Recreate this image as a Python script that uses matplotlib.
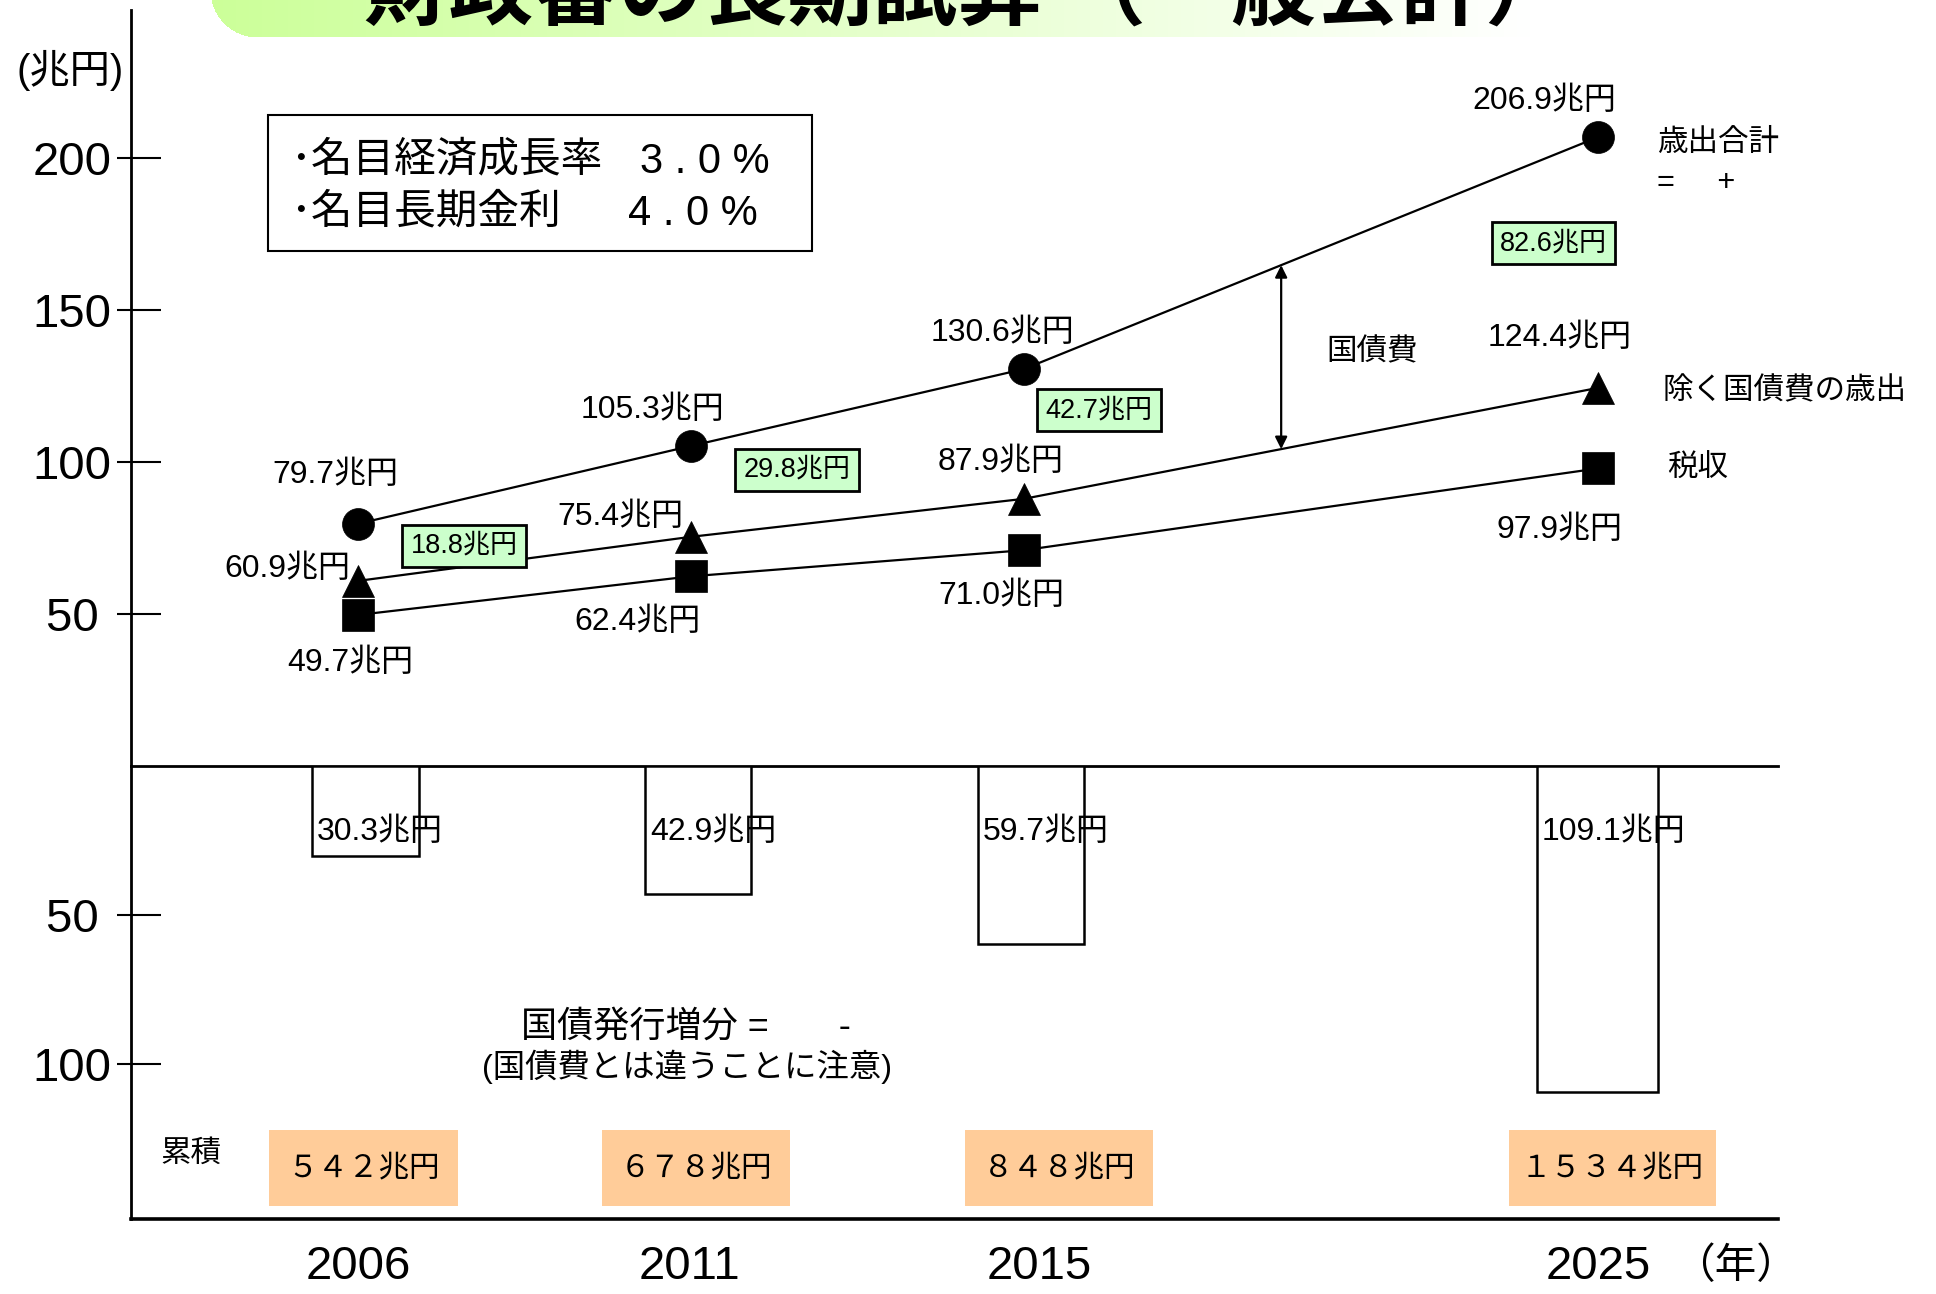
import numpy as np
import matplotlib
matplotlib.use("Agg")
import matplotlib.pyplot as plt
from matplotlib.patches import Rectangle

plt.rcParams['font.family'] = ['Liberation Sans', 'Noto Sans CJK JP']

# ---------------- data ----------------
years = ['2006', '2011', '2015', '2025']
total_exp = [79.7, 105.3, 130.6, 206.9]        # 歳出合計
exp_excl_debt = [60.9, 75.4, 87.9, 124.4]      # 除く国債費の歳出
tax_revenue = [49.7, 62.4, 71.0, 97.9]         # 税収
debt_service = [18.8, 29.8, 42.7, 82.6]        # 国債費
bond_increase = [30.3, 42.9, 59.7, 109.1]      # 国債発行増分
cumulative = ['５４２兆円', '６７８兆円', '８４８兆円', '１５３４兆円']  # 累積
upper_ticks = [50, 100, 150, 200]
upper_ticklabels = ['50 ', '100', '150', '200']
lower_ticks = [50, 100]
lower_ticklabels = ['50 ', '100']

# ---------------- layout ----------------
W, H = 1936, 1294
def fx(px): return px / W
def fy(py): return 1 - py / H

x_pos = [0, 1, 2, 3.724]
year_label_pos = [0, 0.995, 2.045, 3.724]
bar_x = [0.022, 1.021, 2.021, 3.722]
bar_w = [0.321, 0.318, 0.318, 0.363]
XLIM = (-0.682, 4.264)

fig = plt.figure(figsize=(W / 100, H / 100), dpi=100)

# title band with gradient (top clipped by figure edge)
band_w, band_h = 1390, 115
tb = fig.add_axes([fx(210), fy(37), band_w / W, band_h / H], zorder=-1)
img = np.ones((band_h, band_w, 4))
t = np.linspace(0, 1, band_w)
start = np.array([0.80, 1.0, 0.60])
for c in range(3):
    img[:, :, c] = start[c] + (1 - start[c]) * np.clip(t / 0.95, 0, 1)
r = 47
cc, rr = 47, band_h - 37 - 10
yy, xx = np.mgrid[0:band_h, 0:band_w]
mask = (xx < cc) & (yy > rr) & ((xx - cc) ** 2 + (yy - rr) ** 2 > r ** 2)
img[mask, 3] = 0
tb.imshow(img, extent=[0, band_w, 0, band_h], aspect='auto', origin='upper')
tb.set_xlim(0, band_w); tb.set_ylim(0, band_h)
tb.axis('off')
fig.text(fx(364), fy(19), '財政審の長期試算 （一般会計）', fontsize=61,
         fontweight='bold', family=['Noto Sans CJK JP'], ha='left', va='baseline')

# ---------------- upper axes (lines) ----------------
ax = fig.add_axes([fx(131), fy(766), fx(1778) - fx(131), (766 - 10) / H])
ax.patch.set_visible(False)
ax.set_xlim(*XLIM)
ax.set_ylim(0, 248.7)
for s in ['top', 'right']:
    ax.spines[s].set_visible(False)
ax.spines['left'].set_linewidth(2)
ax.spines['bottom'].set_linewidth(2)
ax.set_xticks([])
ax.set_yticks(upper_ticks)
ax.set_yticklabels(upper_ticklabels)
ax.set_yticks(upper_ticks, minor=True)
ax.yaxis.remove_overlapping_locs = False
ax.tick_params(axis='y', which='major', direction='out', length=10, width=1.5,
               pad=4, labelsize=34)
ax.tick_params(axis='y', which='minor', direction='in', length=21.6, width=1.5)

ms = 23
ax.plot(x_pos, total_exp, color='black', lw=1.6, marker='o', ms=ms, mew=0.5, zorder=3)
ax.plot(x_pos, exp_excl_debt, color='black', lw=1.6, marker='^', ms=ms, mew=0.5, zorder=3)
ax.plot(x_pos, tax_revenue, color='black', lw=1.6, marker='s', ms=ms, mew=0.5, zorder=3)

LFS = 23
off_total = [(-23, 49), (-39, 36), (-22, 36), (-54, 36)]
for x, v, o in zip(x_pos, total_exp, off_total):
    ax.annotate(f'{v:.1f}兆円', (x, v), xytext=o, textcoords='offset pixels',
                ha='center', va='center', fontsize=LFS, annotation_clip=False)
off_excl = [(-8, 12, 'right'), (-8, 20, 'right'), (-23, 37, 'center'), (-38, 50, 'center')]
for x, v, o in zip(x_pos, exp_excl_debt, off_excl):
    ax.annotate(f'{v:.1f}兆円', (x, v), xytext=o[:2], textcoords='offset pixels',
                ha=o[2], va='center', fontsize=LFS, annotation_clip=False)
off_tax = [(-8, -48), (-54, -46), (-23, -46), (-39, -62)]
for x, v, o in zip(x_pos, tax_revenue, off_tax):
    ax.annotate(f'{v:.1f}兆円', (x, v), xytext=o, textcoords='offset pixels',
                ha='center', va='center', fontsize=LFS, annotation_clip=False)

# green debt-service boxes
green_pos = [(0.318, 72.4), (1.318, 97.4), (2.225, 117.1), (3.589, 172.0)]
for (gx, gy), v in zip(green_pos, debt_service):
    ax.text(gx, gy, f'{v:.1f}兆円', ha='center', va='center', fontsize=19.5, zorder=5,
            bbox=dict(boxstyle='square,pad=0.3', fc='#ccffcc', ec='black', lw=2))

# double arrow for 国債費
ax_x = 2.772
y_top = np.interp(ax_x, x_pos, total_exp)
y_bot = np.interp(ax_x, x_pos, exp_excl_debt)
ax.annotate('', xy=(ax_x, y_top), xytext=(ax_x, y_bot),
            arrowprops=dict(arrowstyle='<|-|>', color='black', lw=1.6,
                            mutation_scale=18, shrinkA=0, shrinkB=0))
ax.text(3.045, 136.2, '国債費', ha='center', va='center', fontsize=22)

# right-side series labels
ax.annotate('歳出合計', (x_pos[-1], total_exp[-1]), xytext=(59, -6),
            textcoords='offset pixels', ha='left', va='center', fontsize=22,
            annotation_clip=False)
ax.annotate('=     +', (x_pos[-1], total_exp[-1]), xytext=(59, -46),
            textcoords='offset pixels', ha='left', va='center', fontsize=22,
            annotation_clip=False)
ax.annotate('除く国債費の歳出', (x_pos[-1], exp_excl_debt[-1]), xytext=(64, -4),
            textcoords='offset pixels', ha='left', va='center', fontsize=22,
            annotation_clip=False)
ax.annotate('税収', (x_pos[-1], tax_revenue[-1]), xytext=(69, -1),
            textcoords='offset pixels', ha='left', va='center', fontsize=22,
            annotation_clip=False)

# ---------------- lower axes (bars) ----------------
axb = fig.add_axes([fx(131), fy(1219), fx(1778) - fx(131), (1219 - 766) / H])
axb.patch.set_visible(False)
axb.set_xlim(*XLIM)
axb.set_ylim(151.8, 0)
for s in ['top', 'right']:
    axb.spines[s].set_visible(False)
axb.spines['left'].set_linewidth(2)
axb.spines['bottom'].set_linewidth(2.6)
axb.set_yticks(lower_ticks)
axb.set_yticklabels(lower_ticklabels)
axb.set_yticks(lower_ticks, minor=True)
axb.yaxis.remove_overlapping_locs = False
axb.tick_params(axis='y', which='major', direction='out', length=10, width=1.5,
                pad=4, labelsize=34)
axb.tick_params(axis='y', which='minor', direction='in', length=21.6, width=1.5)
axb.set_xticks(year_label_pos)
axb.set_xticklabels(years)
axb.tick_params(axis='x', length=0, pad=19, labelsize=34)

axb.bar(bar_x, bond_increase, width=bar_w, color='white', edgecolor='black', lw=1.8)
for bx, bw, v in zip(bar_x, bar_w, bond_increase):
    axb.annotate(f'{v:.1f}兆円', (bx - bw / 2, 22), xytext=(5, 0),
                 textcoords='offset pixels', ha='left', va='center', fontsize=LFS)

# cumulative boxes
box_cx = [0.017, 1.015, 2.105, 3.766]
box_w = [0.567, 0.565, 0.565, 0.622]
for cx, w, s in zip(box_cx, box_w, cumulative):
    axb.add_patch(Rectangle((cx - w / 2, 121.9), w, 25.5, fc='#ffcc99', ec='none',
                            zorder=2))
    axb.text(cx, 134.6, s, ha='center', va='center', fontsize=22, zorder=3,
             family=['Noto Sans CJK JP'])

# ---------------- free texts ----------------
fig.text(fx(70), fy(70), '(兆円)', ha='center', va='center', fontsize=29)
fig.text(fx(191), fy(1154), '累積', ha='center', va='center', fontsize=22)
fig.text(fx(521), fy(1027), '国債発行増分 =       -', ha='left', va='center', fontsize=26)
fig.text(fx(687), fy(1067), '(国債費とは違うことに注意)', ha='center', va='center', fontsize=23.3)
fig.text(fx(1735), fy(1266), '（年）', ha='center', va='center', fontsize=30,
         family=['Noto Sans CJK JP'])

# assumption box
fig.add_artist(Rectangle((fx(268), fy(251)), fx(812) - fx(268), (251 - 115) / H,
                         transform=fig.transFigure, fc='white', ec='black', lw=1.5))
fig.text(fx(290), fy(160), '･名目経済成長率', ha='left', va='center', fontsize=30,
         family=['Noto Sans CJK JP'])
fig.text(fx(640), fy(162), '3 . 0 %', ha='left', va='center', fontsize=30,
         family=['Liberation Sans'])
fig.text(fx(290), fy(212), '･名目長期金利', ha='left', va='center', fontsize=30,
         family=['Noto Sans CJK JP'])
fig.text(fx(628), fy(214), '4 . 0 %', ha='left', va='center', fontsize=30,
         family=['Liberation Sans'])

fig.savefig('out.png', dpi=100)
